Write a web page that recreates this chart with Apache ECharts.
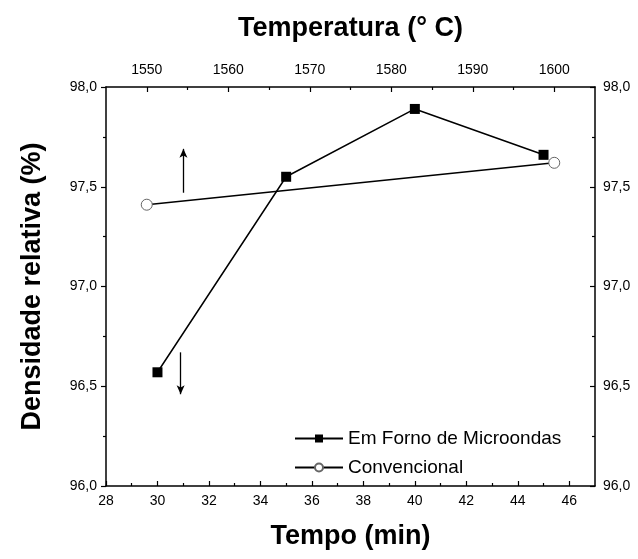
<!DOCTYPE html>
<html>
<head>
<meta charset="utf-8">
<script src="https://cdn.jsdelivr.net/npm/echarts@6/dist/echarts.min.js"></script>
<style>
  html, body { margin: 0; padding: 0; background: #fff; }
  #chart { width: 638px; height: 559px; }
</style>
</head>
<body>
<div id="chart"></div>
<script>
  // tempo (min) - forno de microondas, eixo inferior
  var tempo = [30, 35, 40, 45]
  var densMicro = [96.57, 97.55, 97.89, 97.66]
  // temperatura (C) - convencional, eixo superior
  var temperatura = [1550, 1600]
  var densConv = [97.41, 97.62]

  var tempoTicks = [28, 30, 32, 34, 36, 38, 40, 42, 44, 46]
  var tempoMinor = [29, 31, 33, 35, 37, 39, 41, 43, 45]
  var tempTicks = [1550, 1560, 1570, 1580, 1590, 1600]
  var tempMinor = [1555, 1565, 1575, 1585, 1595]

  var fonte = '"Liberation Sans", Arial, sans-serif'
  var eixo = { lineStyle: { color: '#000', width: 1.5 } }
  var titulo = { fontFamily: fonte, fontSize: 27, fontWeight: 'bold', color: '#000' }
  var virgula = function (v) { return v.toFixed(1).replace('.', ',') }

  var micro = tempo.map(function (t, i) { return [t, densMicro[i]] })
  var conv = temperatura.map(function (t, i) { return [t, densConv[i]] })

  var myChart = echarts.init(document.getElementById('chart'))
  myChart.setOption({
    animation: false,
    backgroundColor: '#fff',
    grid: { left: 106, right: 43, top: 87, bottom: 73 },
    legend: {
      orient: 'vertical',
      left: 289,
      top: 424,
      itemWidth: 48,
      itemHeight: 10,
      itemGap: 10,
      textStyle: { fontFamily: fonte, fontSize: 19, color: '#000' },
      data: ['Em Forno de Microondas', 'Convencional']
    },
    xAxis: [
      {
        type: 'value', position: 'bottom', min: 28, max: 47,
        axisLine: eixo,
        axisTick: { inside: true, length: 5, lineStyle: { color: '#000', width: 1.2 }, customValues: tempoTicks },
        axisLabel: { customValues: tempoTicks, margin: 8, fontFamily: fonte, fontSize: 14, color: '#000' },
        splitLine: { show: false },
        name: 'Tempo (min)', nameLocation: 'middle', nameGap: 37,
        nameTextStyle: titulo
      },
      {
        type: 'value', position: 'top', min: 1545, max: 1605,
        axisLine: eixo,
        axisTick: { inside: true, length: 5, lineStyle: { color: '#000', width: 1.2 }, customValues: tempTicks },
        axisLabel: {
          customValues: tempTicks, margin: 10, fontFamily: fonte, fontSize: 14, color: '#000',
          formatter: function (v) { return String(v) }
        },
        splitLine: { show: false },
        name: 'Temperatura (° C)', nameLocation: 'middle', nameGap: 45,
        nameTextStyle: titulo
      },
      {
        // ticks menores inferiores
        type: 'value', position: 'bottom', min: 28, max: 47,
        axisLine: { show: false },
        axisTick: { inside: true, length: 3, lineStyle: { color: '#000', width: 1.2 }, customValues: tempoMinor },
        axisLabel: { show: false },
        splitLine: { show: false }
      },
      {
        // ticks menores superiores
        type: 'value', position: 'top', min: 1545, max: 1605,
        axisLine: { show: false },
        axisTick: { inside: true, length: 3, lineStyle: { color: '#000', width: 1.2 }, customValues: tempMinor },
        axisLabel: { show: false },
        splitLine: { show: false }
      }
    ],
    yAxis: [
      {
        type: 'value', position: 'left', min: 96, max: 98, interval: 0.5,
        axisLine: { show: true, lineStyle: { color: '#000', width: 1.5 } },
        axisTick: { show: true, inside: false, length: 5, lineStyle: { color: '#000', width: 1.2 } },
        minorTick: { show: true, splitNumber: 2, length: 3, lineStyle: { color: '#000', width: 1.2 } },
        axisLabel: { margin: 9, fontFamily: fonte, fontSize: 14, color: '#000', formatter: virgula },
        splitLine: { show: false },
        name: 'Densidade relativa (%)', nameLocation: 'middle', nameGap: 60,
        nameTextStyle: titulo
      },
      {
        type: 'value', position: 'right', min: 96, max: 98, interval: 0.5,
        axisLine: { show: true, lineStyle: { color: '#000', width: 1.5 } },
        axisTick: { show: true, inside: true, length: 5, lineStyle: { color: '#000', width: 1.2 } },
        minorTick: { show: true, splitNumber: 2, length: 3, lineStyle: { color: '#000', width: 1.2 } },
        axisLabel: { margin: 8, fontFamily: fonte, fontSize: 14, color: '#000', formatter: virgula },
        splitLine: { show: false }
      }
    ],
    series: [
      {
        name: 'Em Forno de Microondas',
        type: 'line',
        xAxisIndex: 0, yAxisIndex: 0,
        data: micro,
        symbol: 'rect', symbolSize: 10,
        itemStyle: { color: '#000' },
        lineStyle: { color: '#000', width: 1.5 },
        markLine: {
          silent: true,
          symbol: ['none', 'arrow'], symbolSize: [6, 9],
          label: { show: false },
          lineStyle: { color: '#000', width: 1.3, type: 'solid' },
          data: [[{ coord: [30.9, 96.67] }, { coord: [30.9, 96.46] }]]
        }
      },
      {
        name: 'Convencional',
        type: 'line',
        xAxisIndex: 1, yAxisIndex: 0,
        data: conv,
        symbol: 'circle', symbolSize: 11,
        itemStyle: { color: '#fff', borderColor: '#666', borderWidth: 1 },
        lineStyle: { color: '#000', width: 1.5 },
        markLine: {
          silent: true,
          symbol: ['none', 'arrow'], symbolSize: [6, 9],
          label: { show: false },
          lineStyle: { color: '#000', width: 1.3, type: 'solid' },
          data: [[{ coord: [1554.5, 97.47] }, { coord: [1554.5, 97.69] }]]
        }
      }
    ]
  })
</script>
</body>
</html>
